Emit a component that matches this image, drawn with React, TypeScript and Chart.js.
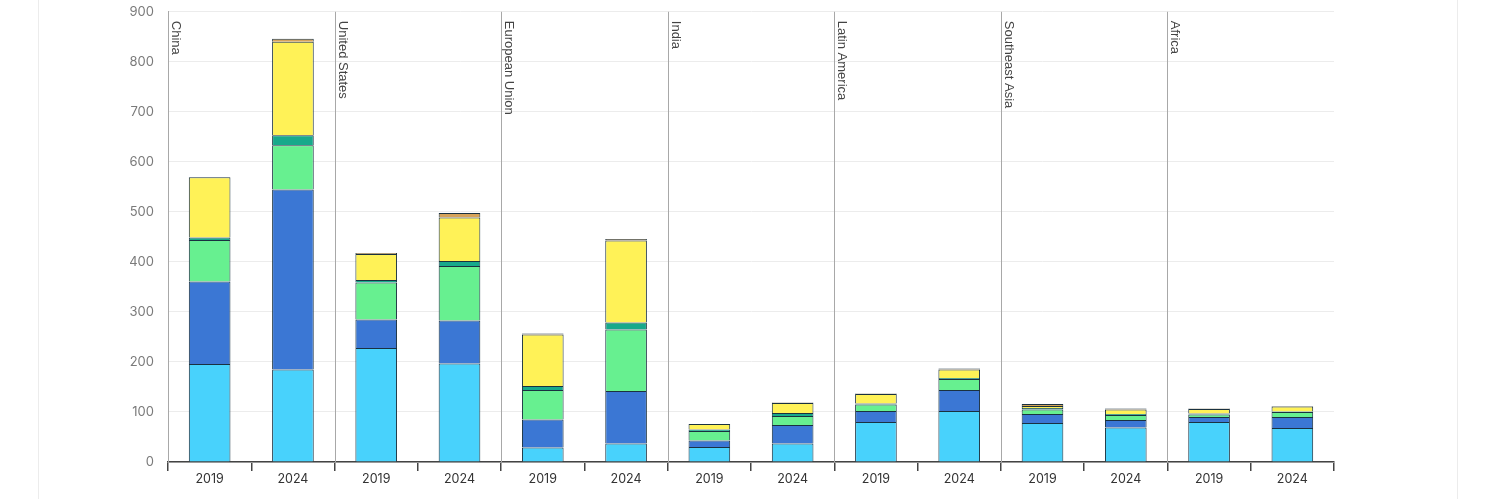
import React, { useEffect, useRef } from "react";
import { Chart, registerables } from "chart.js";

Chart.register(...registerables);

const regions = ["China", "United States", "European Union", "India", "Latin America", "Southeast Asia", "Africa"];
const years = ["2019", "2024"];
const categories = regions.flatMap((r) => years.map((y) => `${r} ${y}`));
const tickLabels = regions.flatMap(() => years);

const seriesNames = ["Segment 1", "Segment 2", "Segment 3", "Segment 4", "Segment 5", "Segment 6"];
const segment1 = [196, 185, 228, 197, 29, 37, 30, 37, 80, 102, 78, 69, 80, 68];
const segment2 = [165, 360, 57, 86, 56, 105, 13, 37, 22, 42, 18, 15, 10, 22];
const segment3 = [83, 88, 74, 109, 59, 123, 19, 18, 13, 22, 9, 10, 5, 10];
const segment4 = [5, 20, 5, 10, 8, 14, 3, 6, 2, 2, 3, 2, 2, 1];
const segment5 = [120, 187, 52, 87, 103, 164, 11, 20, 19, 17, 4, 9, 9, 10];
const segment6 = [0, 6, 2, 9, 2, 3, 0, 1, 1, 2, 4, 2, 1, 1];
const seriesValues = [segment1, segment2, segment3, segment4, segment5, segment6];
const seriesColors = ["#48d2fc", "#3b77d4", "#67f090", "#17a98b", "#fff257", "#d6a35a"];

const groupPlugin = {
  id: "groupSeparators",
  beforeDatasetsDraw(chart: any) {
    const { ctx, chartArea, scales } = chart;
    const x = scales.x;
    ctx.save();
    for (let g = 0; g < regions.length; g++) {
      let bx: number;
      if (g === 0) {
        bx = chartArea.left;
      } else {
        bx = (x.getPixelForValue(2 * g - 1) + x.getPixelForValue(2 * g)) / 2;
        ctx.strokeStyle = "#a8a8a8";
        ctx.lineWidth = 1;
        ctx.beginPath();
        ctx.moveTo(Math.round(bx) + 0.5, chartArea.top);
        ctx.lineTo(Math.round(bx) + 0.5, chartArea.bottom);
        ctx.stroke();
      }
      ctx.save();
      ctx.translate(Math.round(bx) + 4, chartArea.top + 9);
      ctx.rotate(Math.PI / 2);
      ctx.fillStyle = "#444";
      ctx.font = "13px 'Liberation Sans', Arial, sans-serif";
      ctx.textAlign = "left";
      ctx.textBaseline = "alphabetic";
      ctx.fillText(regions[g], 0, 0);
      ctx.restore();
    }
    ctx.restore();
  },
};

export default function App() {
  const ref = useRef<HTMLCanvasElement | null>(null);

  useEffect(() => {
    document.body.style.margin = "0";
    if (!ref.current) return;
    const chart = new Chart(ref.current, {
      type: "bar",
      data: {
        labels: categories,
        datasets: seriesNames.map((name, i) => ({
          label: name,
          data: seriesValues[i],
          backgroundColor: seriesColors[i],
          borderColor: "#1a3140",
          borderWidth: 1,
          barPercentage: 0.5,
          categoryPercentage: 1,
        })),
      },
      options: {
        animation: false,
        responsive: true,
        maintainAspectRatio: false,
        layout: { padding: { left: 0, right: 166, top: 1, bottom: 0 } },
        plugins: { legend: { display: false }, tooltip: { enabled: false } },
        scales: {
          x: {
            stacked: true,
            offset: true,
            grid: {
              offset: true,
              drawOnChartArea: false,
              drawTicks: true,
              tickLength: 9,
              color: "#444",
              lineWidth: 1.5,
            },
            border: { color: "#444", width: 1.5 },
            ticks: {
              color: "#333",
              padding: 1,
              maxRotation: 0,
              autoSkip: false,
              font: { family: "Inter, 'Noto Sans', sans-serif", size: 12.5 },
              callback: (_v: any, i: number) => tickLabels[i],
            },
            afterFit: (s: any) => {
              s.height = 37;
            },
          },
          y: {
            stacked: true,
            min: 0,
            max: 900,
            ticks: {
              stepSize: 100,
              color: "#7a7a7a",
              padding: 14,
              font: { family: "Inter, 'Noto Sans', sans-serif", size: 13 },
            },
            grid: { color: "#ececec", drawTicks: false, lineWidth: 1 },
            border: { color: "#a8a8a8", width: 1 },
            afterFit: (s: any) => {
              s.width = 168;
            },
          },
        },
      },
      plugins: [groupPlugin],
    });
    return () => chart.destroy();
  }, []);

  return (
    <div style={{ position: "relative", width: 1500, height: 499, background: "#fff", overflow: "hidden" }}>
      <div
        style={{
          position: "absolute",
          left: 38,
          top: -5,
          width: 1418,
          height: 520,
          borderLeft: "1px solid #ececec",
          borderRight: "1px solid #ececec",
        }}
      />
      <div style={{ position: "absolute", left: 0, top: -10, width: 1500, height: 509 }}>
        <canvas ref={ref} />
      </div>
    </div>
  );
}
